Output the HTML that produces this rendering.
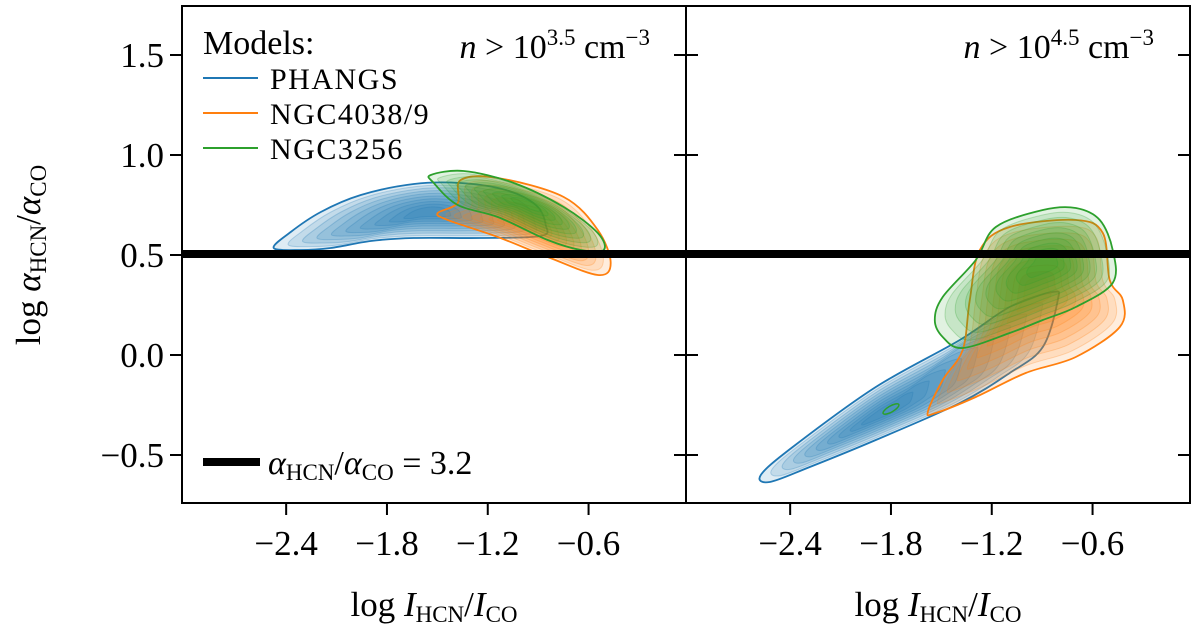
<!DOCTYPE html>
<html><head><meta charset="utf-8"><style>
html,body{margin:0;padding:0;background:#fff;}
svg{display:block;font-family:"Liberation Serif","DejaVu Serif",serif;}
</style></head><body>
<svg id="chart" width="1200" height="639" viewBox="0 0 1200 639">
<g id="contours"></g>
<g id="axes"></g>
</svg>
<script>
// ---- data (x = log I_HCN/I_CO, y = log alpha_HCN/alpha_CO) ----
const xTicks = [-2.4, -1.8, -1.2, -0.6];
const yTicks = [1.5, 1.0, 0.5, 0.0, -0.5];
const yTickLabels = ["1.5", "1.0", "0.5", "0.0", "\u22120.5"];
const xTickLabels = ["\u22122.4", "\u22121.8", "\u22121.2", "\u22120.6"];
const refLine = 0.505;
const models = ["PHANGS", "NGC4038/9", "NGC3256"];
// panel 1 (n > 10^3.5) outlines
const blueL_x = [-2.474,-2.373,-2.194,-1.956,-1.640,-1.361,-1.093,-0.914,-0.855,-0.884,-1.242,-1.640,-1.896,-2.135,-2.313];
const blueL_y = [0.535,0.615,0.715,0.80,0.855,0.86,0.825,0.75,0.65,0.595,0.585,0.585,0.57,0.535,0.525];
const blueL_peak = [-1.54, 0.715];
const orangeL_x = [-1.361,-1.140,-0.748,-0.545,-0.468,-0.545,-0.843,-1.140,-1.438,-1.498,-1.379];
const orangeL_y = [0.875,0.885,0.79,0.625,0.46,0.40,0.49,0.59,0.675,0.71,0.76];
const orangeL_peak = [-0.944, 0.66];
const greenL_x = [-1.539,-1.343,-1.045,-0.748,-0.545,-0.510,-0.646,-0.843,-1.140,-1.379,-1.521];
const greenL_y = [0.90,0.92,0.86,0.74,0.61,0.525,0.525,0.575,0.69,0.75,0.86];
const greenL_peak = [-0.962, 0.76];
// panel 2 (n > 10^4.5) outlines
const blueR_x = [-2.575,-2.385,-1.890,-1.390,-1.093,-0.837,-0.807,-0.896,-1.093,-1.390,-1.890,-2.283,-2.521];
const blueR_y = [-0.60,-0.46,-0.16,0.075,0.24,0.315,0.275,0.04,-0.09,-0.24,-0.425,-0.56,-0.635];
const blueR_peak = [-1.849, -0.29];
const orangeR_x = [-1.581,-1.492,-1.373,-1.331,-1.271,-1.093,-0.70,-0.539,-0.498,-0.42,-0.438,-0.70,-0.998,-1.295,-1.533];
const orangeR_y = [-0.285,-0.125,0.025,0.275,0.525,0.64,0.675,0.61,0.375,0.275,0.14,-0.01,-0.09,-0.21,-0.29];
const orangeR_peak = [-0.938, 0.325];
const greenR_x = [-1.539,-1.492,-1.295,-1.176,-0.896,-0.70,-0.557,-0.48,-0.48,-0.70,-0.896,-1.093,-1.373,-1.492];
const greenR_y = [0.175,0.29,0.475,0.64,0.725,0.735,0.675,0.525,0.36,0.24,0.175,0.11,0.035,0.09];
const greenR_peak = [-0.879, 0.46];

const colors = {blue:"#1f77b4", orange:"#ff7f0e", green:"#2ca02c"};
const svgNS = "http://www.w3.org/2000/svg";
const panels = [{x0:182, x1:686}, {x0:686, x1:1190}];
const yTop = 6, yBot = 503;
const xMin = -3.02, xMax = -0.02, yMinV = -0.74, yMaxV = 1.745;
function sx(p, v){ const P = panels[p]; return P.x0 + (v - xMin) / (xMax - xMin) * (P.x1 - P.x0); }
function sy(v){ return yBot - (v - yMinV) / (yMaxV - yMinV) * (yBot - yTop); }

function el(tag, attrs, parent){ const e = document.createElementNS(svgNS, tag); for (const k in attrs) e.setAttribute(k, attrs[k]); (parent||document.getElementById("axes")).appendChild(e); return e; }

function smoothPath(pts){
  const n = pts.length; let d = "M" + pts[0][0].toFixed(1) + "," + pts[0][1].toFixed(1);
  for (let i = 0; i < n; i++){
    const p0 = pts[(i-1+n)%n], p1 = pts[i], p2 = pts[(i+1)%n], p3 = pts[(i+2)%n];
    const c1 = [p1[0] + (p2[0]-p0[0])/6, p1[1] + (p2[1]-p0[1])/6];
    const c2 = [p2[0] - (p3[0]-p1[0])/6, p2[1] - (p3[1]-p1[1])/6];
    d += "C" + c1[0].toFixed(1)+","+c1[1].toFixed(1)+" "+c2[0].toFixed(1)+","+c2[1].toFixed(1)+" "+p2[0].toFixed(1)+","+p2[1].toFixed(1);
  }
  return d + "Z";
}

function drawKDE(p, xs, ys, peak, color, name){
  const g = el("g", {}, document.getElementById("contours"));
  
  
  const N = 10;
  const cx = peak[0], cy = peak[1];
  for (let k = 0; k < N; k++){
    const s = 1 - k / N * 0.92;
    const pts = xs.map((x, i) => [sx(p, cx + (x - cx) * s), sy(cy + (ys[i] - cy) * s)]);
    const path = el("path", {d: smoothPath(pts), fill: color, "fill-opacity": 0.14,
      stroke: color, "stroke-opacity": k === 0 ? 1 : 0.25, "stroke-width": k === 0 ? 1.8 : 1}, g);
    
    
  }
}

drawKDE(0, blueL_x, blueL_y, blueL_peak, colors.blue, "phangs-kde-left");
drawKDE(0, orangeL_x, orangeL_y, orangeL_peak, colors.orange, "ngc4038-kde-left");
drawKDE(0, greenL_x, greenL_y, greenL_peak, colors.green, "ngc3256-kde-left");
drawKDE(1, blueR_x, blueR_y, blueR_peak, colors.blue, "phangs-kde-right");
drawKDE(1, orangeR_x, orangeR_y, orangeR_peak, colors.orange, "ngc4038-kde-right");
drawKDE(1, greenR_x, greenR_y, greenR_peak, colors.green, "ngc3256-kde-right");
const isl = el("ellipse", {cx: sx(1,-1.8), cy: sy(-0.27), rx: 9, ry: 3, transform: "rotate(-30 "+sx(1,-1.8)+" "+sy(-0.27)+")", fill:"none", stroke: colors.green, "stroke-width":1.5}, document.getElementById("contours"));



const rl = el("line", {x1: 182, x2: 1190, y1: sy(refLine), y2: sy(refLine), stroke: "#000", "stroke-width": 8});



panels.forEach((P, p) => {
  const fr = el("rect", {x: P.x0, y: yTop, width: P.x1 - P.x0, height: yBot - yTop, fill: "none", stroke: "#000", "stroke-width": 2});
  
  
  xTicks.forEach((t, i) => {
    const X = sx(p, t);
    const tk = el("line", {x1: X, x2: X, y1: yBot, y2: yBot + 12, stroke: "#000", "stroke-width": 2});
    
    
    const lb = el("text", {x: X, y: yBot + 52, "text-anchor": "middle", "font-size": 35});
    lb.textContent = xTickLabels[i];
    
    
  });
  yTicks.forEach((t) => {
    const Y = sy(t);
    const a = p === 0 ? {x1: 170, x2: 182} : {x1: 1178, x2: 1190};
    const tk = el("line", Object.assign(a, {y1: Y, y2: Y, stroke: "#000", "stroke-width": 2}));
    
    
    const tm = el("line", {x1: 674, x2: 698, y1: Y, y2: Y, stroke: "#000", "stroke-width": 2});
    
    
  });
  const xl = el("text", {x: (P.x0 + P.x1)/2, y: 616, "text-anchor": "middle", "font-size": 35});
  xl.innerHTML = 'log <tspan font-style="italic">I</tspan><tspan font-size="23" dy="6">HCN</tspan><tspan dy="-6">/</tspan><tspan font-style="italic">I</tspan><tspan font-size="23" dy="6">CO</tspan>';
  
  
});
yTicks.forEach((t, i) => {
  const lb = el("text", {x: 164, y: sy(t) + 12, "text-anchor": "end", "font-size": 35});
  lb.textContent = yTickLabels[i];
  
  
});
const yl = el("text", {x: 0, y: 0, "text-anchor": "middle", "font-size": 35, transform: "translate(40 255) rotate(-90)"});
yl.innerHTML = 'log <tspan font-style="italic">α</tspan><tspan font-size="23" dy="6">HCN</tspan><tspan dy="-6">/</tspan><tspan font-style="italic">α</tspan><tspan font-size="23" dy="6">CO</tspan>';



const t1 = el("text", {x: 650, y: 58, "text-anchor": "end", "font-size": 34});
t1.innerHTML = '<tspan font-style="italic">n</tspan> &gt; 10<tspan font-size="23" dy="-13">3.5</tspan><tspan dy="13">  cm</tspan><tspan font-size="23" dy="-13">−3</tspan>';


const t2 = el("text", {x: 1154, y: 58, "text-anchor": "end", "font-size": 34});
t2.innerHTML = '<tspan font-style="italic">n</tspan> &gt; 10<tspan font-size="23" dy="-13">4.5</tspan><tspan dy="13">  cm</tspan><tspan font-size="23" dy="-13">−3</tspan>';



const lt = el("text", {x: 203, y: 54, "font-size": 34});
lt.textContent = "Models:";


const lc = [colors.blue, colors.orange, colors.green];
models.forEach((m, i) => {
  const Y = 78 + i * 35;
  const ln = el("line", {x1: 203, x2: 258, y1: Y, y2: Y, stroke: lc[i], "stroke-width": 2});
  
  
  const tx = el("text", {x: 270, y: Y + 11, "font-size": 30, "letter-spacing": 1.5});
  tx.textContent = m;
  
  
});
const bl = el("line", {x1: 203, x2: 260, y1: 462, y2: 462, stroke: "#000", "stroke-width": 8});


const bt = el("text", {x: 268, y: 474, "font-size": 34});
bt.innerHTML = '<tspan font-style="italic">α</tspan><tspan font-size="23" dy="6">HCN</tspan><tspan dy="-6">/</tspan><tspan font-style="italic">α</tspan><tspan font-size="23" dy="6">CO</tspan><tspan dy="-6"> = 3.2</tspan>';


</script>
</body></html>
